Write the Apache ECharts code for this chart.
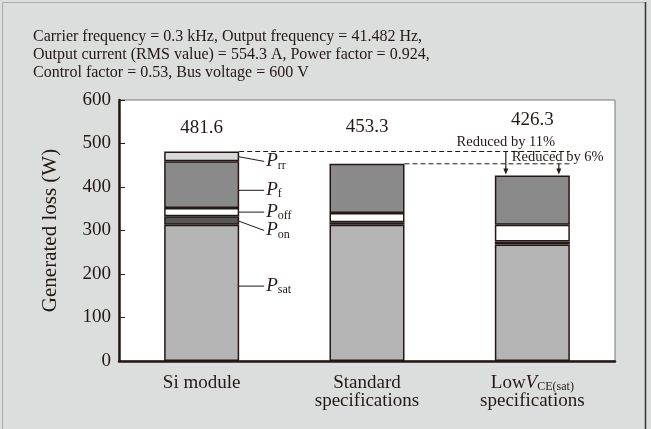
<!DOCTYPE html>
<html><head><meta charset="utf-8">
<script src="https://cdn.jsdelivr.net/npm/echarts@6/dist/echarts.min.js"></script>
<style>html,body{margin:0;padding:0;background:#dcdedd}#c{width:651px;height:429px}</style>
</head><body><div id="c"></div>
<script>
const categories = ['Si module', 'Standard\nspecifications', 'LowVCE(sat)\nspecifications'];
const pSat = [313, 313, 268];
const pOn = [20, 6, 6.5];
const pOff = [18.5, 21, 39];
const pF = [107.5, 113.3, 112.8];
const pRr = [22.6, 0, 0];
const totals = [481.6, 453.3, 426.3];
const yTicks = [0, 100, 200, 300, 400, 500, 600];
const titleLines = [
  'Carrier frequency = 0.3 kHz, Output frequency = 41.482 Hz,',
  'Output current (RMS value) = 554.3 A, Power factor = 0.924,',
  'Control factor = 0.53, Bus voltage = 600 V'
];
const reductionTexts = ['Reduced by 11%', 'Reduced by 6%'];

const FONT = '"Liberation Serif", "DejaVu Serif", serif';
const INK = '#231815';
const BAR_W = 75;
const AX_FS = 19;

const chart = echarts.init(document.getElementById('c'), null, {renderer: 'canvas'});

function seg(name, data, color) {
  return {
    name, type: 'bar', stack: 'loss', barWidth: BAR_W,
    data: data.map(v => v === 0 ? '-' : v),
    itemStyle: {color, borderColor: INK, borderWidth: 1.5},
    silent: true
  };
}
const labelDist = [14, 27, 46];

chart.setOption({
  backgroundColor: '#dcdedd',
  animation: false,
  title: {
    text: titleLines.join('\n'), left: 28, top: 23,
    textStyle: {fontFamily: FONT, fontSize: 16, fontWeight: 'normal', color: INK, lineHeight: 18}
  },
  grid: {left: 119, right: 36, top: 100, bottom: 68, show: true, backgroundColor: '#fff', borderColor: '#777', borderWidth: 1},
  xAxis: {
    type: 'category', data: categories,
    axisLine: {lineStyle: {color: INK, width: 2.5}},
    axisTick: {show: false},
    axisLabel: {
      interval: 0, margin: 13, color: INK, fontFamily: FONT, fontSize: AX_FS, lineHeight: 18,
      formatter: function (v) {
        if (v.indexOf('LowVCE') === 0) {
          return '{n|Low}{i|V}{s|CE(sat)}\n{n|specifications}';
        }
        return v.split('\n').map(t => '{n|' + t + '}').join('\n');
      },
      rich: {
        n: {fontFamily: FONT, fontSize: AX_FS, color: INK, lineHeight: 18},
        i: {fontFamily: FONT, fontSize: AX_FS, fontStyle: 'italic', color: INK, lineHeight: 18},
        s: {fontFamily: FONT, fontSize: 12, color: INK, lineHeight: 18, padding: [7, 0, 0, 0]}
      }
    }
  },
  yAxis: {
    type: 'value', min: yTicks[0], max: yTicks[yTicks.length - 1], interval: 100,
    name: 'Generated loss (W)', nameLocation: 'middle', nameGap: 58,
    nameTextStyle: {fontFamily: FONT, fontSize: 21, color: INK},
    axisLine: {show: true, lineStyle: {color: INK, width: 2.5}},
    axisTick: {show: true, inside: true, length: 6, lineStyle: {color: INK, width: 1}},
    axisLabel: {color: INK, fontFamily: FONT, fontSize: AX_FS, margin: 8},
    splitLine: {show: false}
  },
  series: [
    seg('Psat', pSat, '#b4b4b4'),
    seg('Pon', pOn, '#575757'),
    seg('Poff', pOff, '#ffffff'),
    seg('Pf', pF, '#8a8a8a'),
    seg('Prr', pRr, '#d9d9d9'),
    {
      name: 'total', type: 'bar', stack: 'loss', barWidth: BAR_W, silent: true,
      itemStyle: {color: 'transparent', borderWidth: 0},
      data: totals.map((t, i) => ({value: 0, label: {distance: labelDist[i]}})),
      label: {
        show: true, position: 'top', fontFamily: FONT, fontSize: AX_FS, color: INK,
        formatter: p => totals[p.dataIndex].toFixed(1)
      }
    }
  ]
});

function P(ci, v) { return chart.convertToPixel({gridIndex: 0}, [ci, v]); }
const g = [];
g.push({type: 'rect', shape: {x: 2.5, y: 2.5, width: 643, height: 440}, style: {fill: 'none', stroke: '#aaa', lineWidth: 1}, silent: true});
g.push({type: 'line', shape: {x1: 645.5, y1: 2, x2: 645.5, y2: 429}, style: {stroke: '#333', lineWidth: 1.5}, silent: true});

const siParts = [
  {d: pSat, frac: 0.55, sub: 'sat', dy: 0},
  {d: pOn, frac: 0.5, sub: 'on', dy: 10},
  {d: pOff, frac: 0.5, sub: 'off', dy: 0},
  {d: pF, frac: 0.38, sub: 'f', dy: 0},
  {d: pRr, frac: 0.5, sub: 'rr', dy: 5}
];
let base = 0;
const siRight = P(0, 0)[0] + BAR_W / 2;
siParts.forEach(p => {
  const v = p.d[0];
  const yy = P(0, base + v * p.frac)[1];
  base += v;
  const x1 = siRight - 2, x2 = siRight + 25, y2 = yy + p.dy;
  g.push({type: 'line', shape: {x1, y1: yy, x2, y2}, style: {stroke: INK, lineWidth: 1}, silent: true});
  g.push({type: 'text', x: x2 + 2, y: y2, silent: true, style: {
    text: '{p|P}{s|' + p.sub + '}', verticalAlign: 'middle', align: 'left',
    rich: {
      p: {fontFamily: FONT, fontSize: 19, fontStyle: 'italic', fill: INK, lineHeight: 18},
      s: {fontFamily: FONT, fontSize: 12, fill: INK, lineHeight: 18, padding: [8, 0, 0, 0]}
    }
  }});
});

const r1 = P(0, 0)[0] + BAR_W / 2, r2 = P(1, 0)[0] + BAR_W / 2;
const l3 = P(2, 0)[0] - BAR_W / 2, r3 = P(2, 0)[0] + BAR_W / 2;
const y1 = P(0, totals[0])[1], y2 = P(1, totals[1])[1], y3 = P(2, totals[2])[1];
const dash = {stroke: INK, lineWidth: 1, lineDash: [5, 3]};
g.push({type: 'line', shape: {x1: r1, y1: y1, x2: r3, y2: y1}, style: dash, silent: true});
g.push({type: 'line', shape: {x1: r2, y1: y2, x2: r3, y2: y2}, style: dash, silent: true});
function arrow(x, ya, yb) {
  g.push({type: 'line', shape: {x1: x, y1: ya, x2: x, y2: yb - 5}, style: {stroke: INK, lineWidth: 1.2}, silent: true});
  g.push({type: 'polygon', shape: {points: [[x - 2.5, yb - 7], [x + 2.5, yb - 7], [x, yb - 1]]}, style: {fill: INK}, silent: true});
}
const ax1 = l3 + 11, ax2 = r3 - 11;
arrow(ax1, y1, y3);
arrow(ax2, y2, y3);
g.push({type: 'text', x: ax1, y: y1 - 2, silent: true, style: {text: reductionTexts[0], align: 'center', verticalAlign: 'bottom', fontFamily: FONT, fontSize: 14.5, fill: INK}});
g.push({type: 'text', x: ax2 - 47, y: y2 + 1, silent: true, style: {text: reductionTexts[1], align: 'left', verticalAlign: 'bottom', fontFamily: FONT, fontSize: 14.5, fill: INK}});

chart.setOption({graphic: g});
</script></body></html>
